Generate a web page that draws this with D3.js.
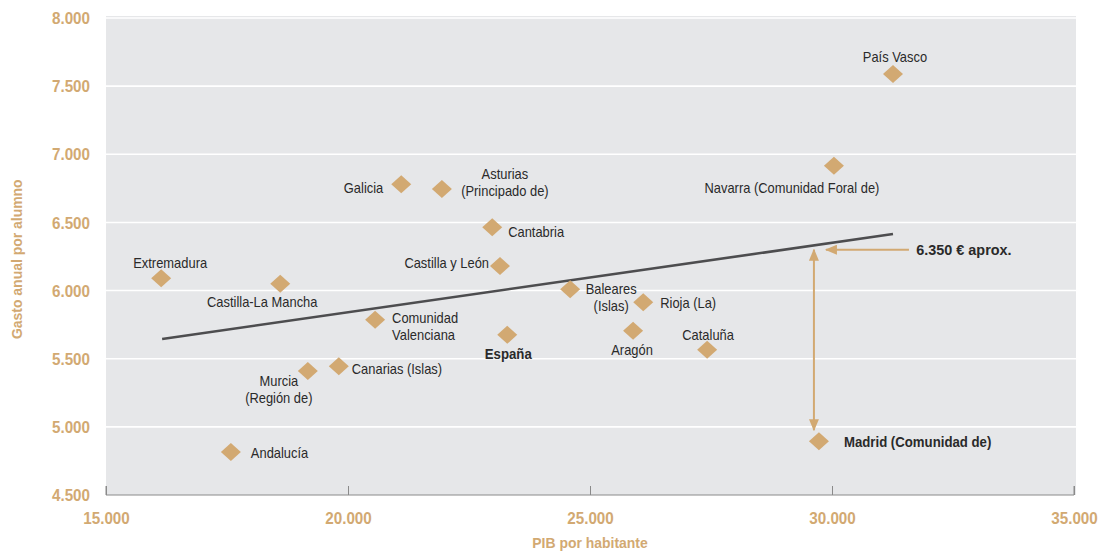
<!DOCTYPE html>
<html><head><meta charset="utf-8">
<script src="https://cdn.jsdelivr.net/npm/d3@7"></script>
<style>
body{margin:0;background:#fff;}
text{font-family:"Liberation Sans",Arial,sans-serif;}
</style></head>
<body><svg id="c" width="1100" height="551"></svg>
<script>
const regions = ["País Vasco","Navarra (Comunidad Foral de)","Galicia","Asturias (Principado de)","Cantabria","Castilla y León","Extremadura","Castilla-La Mancha","Baleares (Islas)","Rioja (La)","Comunidad Valenciana","Aragón","España","Cataluña","Canarias (Islas)","Murcia (Región de)","Andalucía","Madrid (Comunidad de)"];
const pib =   [31260,30040,21100,21940,22980,23140,16140,18600,24590,26100,20560,25890,23290,27420,19810,19170,17580,29730];
const gasto = [7590,6915,6780,6745,6465,6180,6090,6050,6010,5915,5785,5705,5675,5565,5445,5410,4815,4895];
const labelLines = [["País Vasco"],["Navarra (Comunidad Foral de)"],["Galicia"],["Asturias","(Principado de)"],["Cantabria"],["Castilla y León"],["Extremadura"],["Castilla-La Mancha"],["Baleares","(Islas)"],["Rioja (La)"],["Comunidad","Valenciana"],["Aragón"],["España"],["Cataluña"],["Canarias (Islas)"],["Murcia","(Región de)"],["Andalucía"],["Madrid (Comunidad de)"]];
const boldLabels = ["España","Madrid (Comunidad de)"];
const xTicks = [15000,20000,25000,30000,35000];
const yTicks = [4500,5000,5500,6000,6500,7000,7500,8000];
const trendX = [16160,31260];
const trendY = [5645,6415];
const annotValue = 6300;
const annotText = "6.350 € aprox.";
const xTitle = "PIB por habitante";
const yTitle = "Gasto anual por  alumno";

const tan = "#d2a972", dark = "#2a2a2a";
const svg = d3.select("#c");
const x = d3.scaleLinear().domain([15000,35000]).range([106,1074]);
const y = d3.scaleLinear().domain([4500,8000]).range([495,18]);
const fmt = d => d3.format(",")(d).replace(/,/g,".");
function squeeze(sel, f){
  sel.each(function(){
    const w = this.getComputedTextLength();
    this.setAttribute("textLength", (w*f).toFixed(1));
    this.setAttribute("lengthAdjust","spacingAndGlyphs");
  });
}

svg.append("rect").attr("x",x(15000)).attr("y",y(8000)-2).attr("width",x(35000)-x(15000)+2).attr("height",y(4500)-y(8000)+2).attr("fill","#e6e7e9");

// gridlines
svg.append("g").selectAll("line").data(yTicks.filter(t=>t>4500)).join("line")
  .attr("x1",x(15000)).attr("x2",x(35000)+2).attr("y1",d=>y(d)).attr("y2",d=>y(d))
  .attr("stroke","#fff").attr("stroke-width",1.6);

// y axis labels
const ya = svg.append("g").attr("transform",`translate(${x(15000)-13},0)`).call(d3.axisLeft(y).tickValues(yTicks).tickSize(0).tickFormat(fmt));
ya.select(".domain").remove();
ya.selectAll("text").attr("fill",tan).attr("font-size",16).attr("font-weight","bold").attr("dy","0.35em")
  .style("font-family","'Liberation Sans',sans-serif").call(squeeze,0.95);

// x axis
const xa = svg.append("g").attr("transform",`translate(0,${y(4500)})`).call(d3.axisBottom(x).tickValues(xTicks).tickSize(-9).tickPadding(18).tickFormat(fmt));
xa.select(".domain").attr("stroke","#8a8a8a").attr("d",`M${x(15000)},-9V0H${x(35000)}V-9`);
xa.selectAll("line").attr("stroke","#8a8a8a");
xa.selectAll("text").attr("fill",tan).attr("font-size",16).attr("font-weight","bold")
  .style("font-family","'Liberation Sans',sans-serif").call(squeeze,0.95);

// titles
svg.append("text").attr("x",(x(15000)+x(35000))/2).attr("y",548).attr("text-anchor","middle")
  .attr("fill",tan).attr("font-size",15).attr("font-weight","bold").text(xTitle).call(squeeze,0.93);
svg.append("text").attr("transform",`translate(22,${y(6230)}) rotate(-90)`).attr("text-anchor","middle")
  .attr("fill",tan).attr("font-size",15).attr("font-weight","bold").text(yTitle).call(squeeze,0.93);

// trend line
svg.append("line").attr("x1",x(trendX[0])).attr("y1",y(trendY[0])).attr("x2",x(trendX[1])).attr("y2",y(trendY[1]))
  .attr("stroke","#4d4d4f").attr("stroke-width",2.6);

// markers
const defs = svg.append("defs");
defs.append("marker").attr("id","ah").attr("viewBox","0 0 12 10").attr("refX",11).attr("refY",5)
  .attr("markerWidth",12).attr("markerHeight",10).attr("markerUnits","userSpaceOnUse").attr("orient","auto-start-reverse")
  .append("path").attr("d","M0,0L12,5L0,10Z").attr("fill",tan);

const madridIdx = regions.indexOf("Madrid (Comunidad de)");
const mx = x(pib[madridIdx]);
// vertical double arrow
svg.append("line").attr("x1",mx-5).attr("x2",mx-5).attr("y1",y(annotValue)).attr("y2",y(gasto[madridIdx])-11)
  .attr("stroke",tan).attr("stroke-width",2).attr("marker-start","url(#ah)").attr("marker-end","url(#ah)");
// horizontal arrow
svg.append("line").attr("x1",x(31590)).attr("x2",mx+7).attr("y1",y(annotValue)).attr("y2",y(annotValue))
  .attr("stroke",tan).attr("stroke-width",2).attr("marker-end","url(#ah)");
svg.append("text").attr("x",x(31740)).attr("y",y(annotValue)).attr("dy","0.35em").attr("fill",dark)
  .attr("font-size",15.5).attr("font-weight","bold").text(annotText).call(squeeze,0.93);

// points
const data = regions.map((r,i)=>({r,x:pib[i],y:gasto[i],lines:labelLines[i]}));
svg.append("g").selectAll("path").data(data).join("path")
  .attr("d","M0,-9L10,0L0,9L-10,0Z").attr("transform",d=>`translate(${x(d.x)},${y(d.y)})`).attr("fill",tan);

// label offsets (dx, dy of first baseline, anchor)
const lab = {
 "País Vasco":[2,-12,"middle"],
 "Navarra (Comunidad Foral de)":[-42,27,"middle"],
 "Galicia":[-18,9,"end"],
 "Asturias (Principado de)":[63,-10,"middle"],
 "Cantabria":[16,10,"start"],
 "Castilla y León":[-11,2,"end"],
 "Extremadura":[9,-10,"middle"],
 "Castilla-La Mancha":[-18,23,"middle"],
 "Baleares (Islas)":[41,5,"middle"],
 "Rioja (La)":[17,6,"start"],
 "Comunidad Valenciana":[17,3,"start"],
 "Aragón":[-1,24,"middle"],
 "España":[1,24,"middle"],
 "Cataluña":[1,-10,"middle"],
 "Canarias (Islas)":[13,8,"start"],
 "Murcia (Región de)":[-29,15,"middle"],
 "Andalucía":[20,6,"start"],
 "Madrid (Comunidad de)":[25,6,"start"]
};
const lg = svg.append("g");
data.forEach(d=>{
  const o = lab[d.r];
  d.lines.forEach((l,k)=>{
    lg.append("text").attr("x",x(d.x)+o[0]).attr("y",y(d.y)+o[1]+k*17).attr("text-anchor",o[2])
      .attr("fill",dark).attr("font-size",15).attr("font-weight",boldLabels.includes(d.r)?"bold":"normal")
      .text(l).call(squeeze, boldLabels.includes(d.r)?0.88:0.86);
  });
});
</script></body></html>
